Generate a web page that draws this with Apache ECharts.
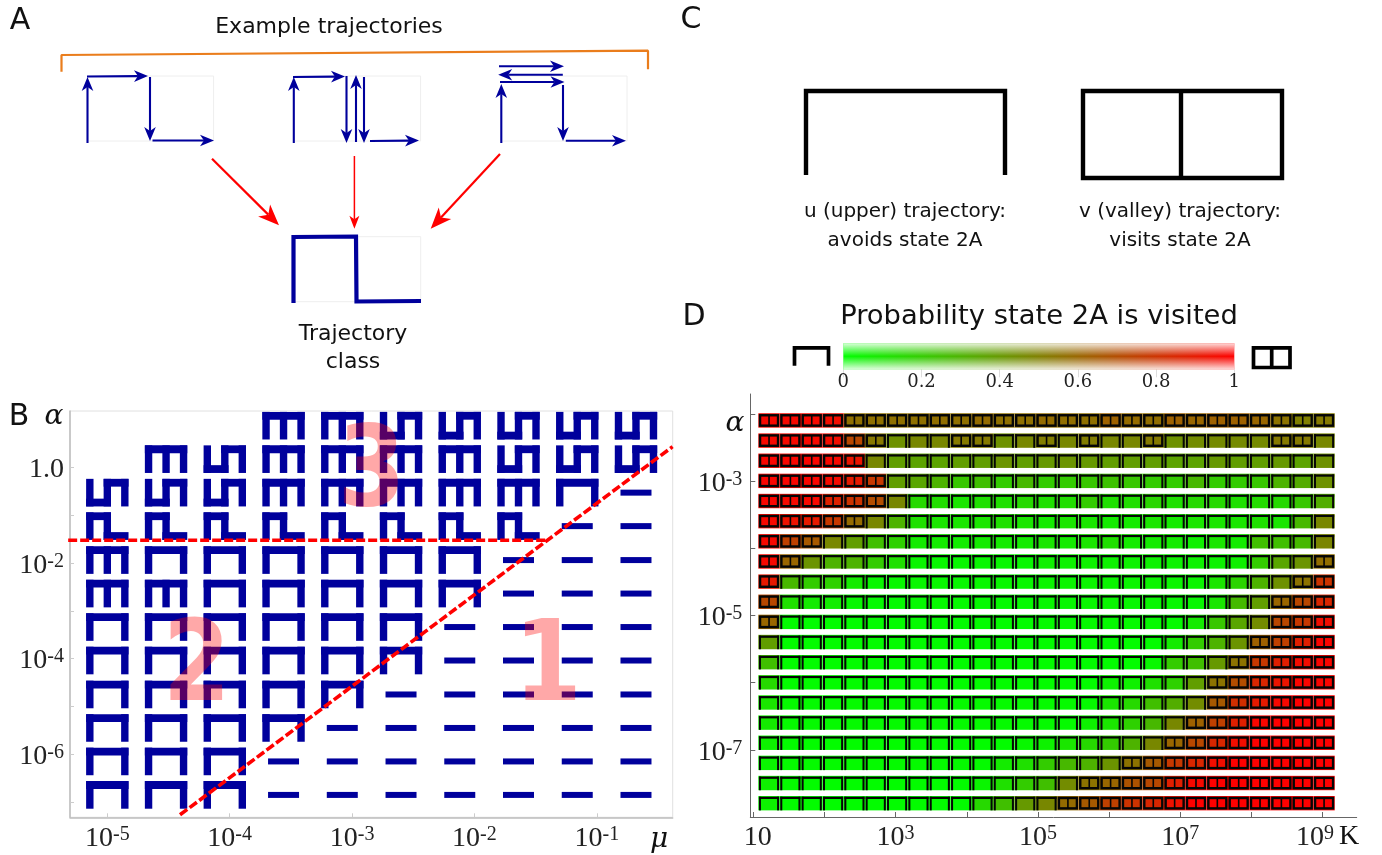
<!DOCTYPE html>
<html><head><meta charset="utf-8"><style>html,body{margin:0;padding:0;background:#fff}#c{width:1382px;height:855px}</style>
<script src="https://cdn.jsdelivr.net/npm/echarts@6/dist/echarts.min.js"></script></head>
<body><div id="c"></div>
<script>
// ---------- Panel B data ----------
const muLog = [-5,-4.52,-4.04,-3.56,-3.08,-2.6,-2.12,-1.64,-1.16,-0.68];
const alphaLogB = [0.87,0.17,-0.53,-1.23,-1.94,-2.64,-3.34,-4.04,-4.75,-5.45,-6.15,-6.85];
// u upper, v valley, s detour via valley, p partial, d dash, . none
const classRows = [
 '...vvsssss','.vsvvvvsss','sssvvvvvud','ppppppppdd','vuuuuuuddd','vvuuuuuddd',
 'uuuuuudddd','uuuuuudddd','uuuuuddddd','uuuudddddd','uuuddddddd','uuuddddddd'];
const boundaryH = [[-5.32,-1.526],[-1.416,-1.526]];
const boundaryD = [[-4.406,-7.266],[-0.381,0.431]];
const regionNames = ['1','2','3'];
const regionMu = [-1.4,-4.27,-2.84];
const regionAlpha = [-4.26,-4.26,-0.18];
const muTicks = [-5,-4,-3,-2,-1];
const alphaTicksB = [0,-1,-2,-3,-4,-5,-6,-7];

// ---------- Panel D data ----------
const logK = [1.2,1.5,1.8,2.1,2.4,2.7,3,3.3,3.6,3.9,4.2,4.5,4.8,5.1,5.4,5.7,6,6.3,6.6,6.9,7.2,7.5,7.8,8.1,8.4,8.7,9];
const alphaLogD = [-2.1,-2.4,-2.7,-3,-3.3,-3.6,-3.9,-4.2,-4.5,-4.8,-5.1,-5.4,-5.7,-6,-6.3,-6.6,-6.9,-7.2,-7.5,-7.8];
const visitProb = [
 [.97,.97,.97,.95,.56,.56,.56,.56,.57,.56,.58,.56,.56,.58,.57,.56,.62,.58,.57,.62,.6,.62,.62,.6,.55,.5,.52],
 [.97,.97,.97,.95,.72,.53,.43,.47,.47,.52,.52,.43,.47,.51,.47,.51,.47,.47,.52,.43,.45,.46,.46,.46,.52,.52,.47],
 [.98,.98,.98,.97,.92,.47,.38,.36,.36,.38,.38,.42,.38,.4,.42,.4,.38,.38,.38,.36,.36,.4,.38,.38,.4,.36,.43],
 [.98,.98,.98,.96,.9,.78,.38,.35,.3,.22,.25,.2,.28,.2,.2,.22,.24,.22,.2,.2,.28,.2,.2,.22,.3,.33,.43],
 [.98,.97,.97,.87,.8,.7,.47,.15,.13,.1,.12,.12,.15,.12,.13,.2,.12,.13,.16,.12,.15,.15,.12,.14,.15,.22,.32],
 [.97,.93,.9,.78,.58,.47,.3,.12,.1,.1,.1,.12,.1,.08,.1,.1,.08,.08,.1,.08,.1,.1,.1,.12,.1,.28,.47],
 [.97,.75,.65,.47,.38,.25,.18,.08,.08,.07,.08,.08,.08,.1,.08,.1,.12,.08,.08,.08,.06,.1,.08,.25,.25,.28,.48],
 [.97,.6,.42,.3,.3,.2,.12,.04,.03,.03,.03,.03,.03,.06,.05,.05,.05,.05,.05,.05,.05,.05,.06,.2,.35,.42,.57],
 [.9,.28,.2,.18,.08,.03,.03,.03,.03,.03,.03,.03,.03,.04,.04,.04,.04,.04,.04,.04,.04,.1,.17,.3,.43,.55,.8],
 [.72,.12,.08,.07,.03,.02,.02,.02,.02,.02,.02,.02,.02,.03,.03,.03,.03,.03,.03,.03,.03,.1,.27,.38,.6,.72,.85],
 [.6,.01,.01,.01,.01,.01,.01,.01,.01,.01,.01,.01,.01,.02,.02,.02,.02,.02,.02,.02,.08,.22,.35,.45,.72,.78,.95],
 [.38,.01,.01,.01,.01,.01,.01,.01,.01,.01,.01,.01,.01,.01,.01,.01,.01,.01,.01,.08,.2,.3,.42,.62,.75,.88,.98],
 [.25,.01,.01,.01,.01,.01,.01,.01,.01,.01,.01,.01,.01,.01,.01,.01,.01,.01,.03,.2,.25,.4,.55,.78,.88,.95,.98],
 [.15,.01,.01,.01,.01,.01,.01,.01,.01,.01,.01,.01,.01,.01,.01,.01,.05,.06,.12,.18,.38,.55,.7,.85,.92,.98,.98],
 [.1,.02,.02,.02,.02,.02,.02,.02,.02,.02,.02,.02,.02,.02,.02,.02,.1,.15,.25,.32,.45,.65,.82,.9,.97,1,1],
 [.08,.02,.02,.02,.02,.02,.02,.02,.02,.02,.02,.02,.02,.02,.02,.05,.1,.18,.28,.47,.62,.75,.88,.98,1,1,1],
 [.05,.01,.01,.01,.01,.01,.01,.01,.01,.01,.01,.01,.03,.05,.1,.15,.2,.3,.47,.6,.72,.85,.95,1,1,1,1],
 [.04,.02,.02,.02,.02,.02,.02,.02,.02,.02,.02,.08,.12,.2,.28,.3,.42,.55,.65,.78,.85,.95,1,1,1,1,1],
 [.06,.02,.01,.01,.01,.01,.01,.01,.01,.01,.04,.12,.2,.25,.45,.55,.6,.68,.72,.88,.97,1,1,1,1,1,1],
 [.05,.01,.01,.01,.01,.01,.01,.01,.01,.01,.15,.25,.4,.47,.58,.65,.75,.8,.85,.93,1,1,1,1,1,1,1]
];
const kTicks = [1,2,3,4,5,6,7,8,9];
const kLabelTicks = [1,3,5,7,9];
const alphaTicksD = [-2,-3,-4,-5,-6,-7];
const alphaLabelTicksD = [-3,-5,-7];
const colorbarRange = [[0,1]];

// ---------- Schematic data (panels A and C, in schematic units) ----------
const bracket = [[61.5,71.7],[61.5,55],[648,50.7],[648,69.3]];
const stateBoxes = [
 [87,76,149.5,76],[149.5,76,213.6,76],[87,141,213.6,141],[213.6,76,213.6,141],
 [293.8,76,420.6,76],[293.8,141,420.6,141],[420.6,76,420.6,141],
 [501.3,76,627,76],[501.3,141,627,141],[627,76,627,141],
 [293,236.7,420.7,236.7],[293,301.7,420.7,301.7],[420.7,236.7,420.7,301.7]];
const exampleArrows = [
 [87.5,143,87.5,77],[87,76.5,148,76],[150,77,150,141],[152.5,140.5,214,140.5],
 [293.8,143,293.8,77],[293,77,345,76.5],[346.5,76,346.5,143],[356,142,356,75],[364,77,364,143],[370,141,419,140.5],
 [501.3,143,501.3,84],[500,82,564.5,82],[562.8,74.7,498.2,74.7],[499,66.3,564,66.3],[563,85,563,141],[565.8,140.7,626,140.7]];
const classPath = [[293.5,303],[293.5,237],[356,236.5],[356.5,301.5],[421,301]];
const redArrowsThick = [[212,158.7,279,225.3],[500,154,430.7,228.7]];
const redArrowsThin = [[354.4,156,354.4,228.7]];
const upperPath = [[806,175],[806,91],[1005,91],[1005,175]];
const valleyOuter = [[1083,91],[1282,91],[1282,178],[1083,178],[1083,91]];
const valleyMid = [[1181,91],[1181,178]];
const keyUpper = [[794.5,365.7],[794.5,347.8],[828.5,347.8],[828.5,365.7]];
const keyValley = [[1253.5,347.8],[1290,347.8],[1290,367.5],[1253.5,367.5],[1253.5,347.8]];
const keyValleyMid = [[1271.7,347.8],[1271.7,367.5]];

const SANS='"DejaVu Sans"', SERIF='"DejaVu Serif"', LABEL='"Liberation Serif"';
const blue='#00009c', red='#ff0000';

function arrowItem(L,hw,lw,color){
  return function(params,api){
    const a=api.coord([api.value(0),api.value(1)]), b=api.coord([api.value(2),api.value(3)]);
    const dx=b[0]-a[0], dy=b[1]-a[1], n=Math.hypot(dx,dy), ux=dx/n, uy=dy/n, nx=-uy, ny=ux;
    const base=[b[0]-ux*L,b[1]-uy*L], notch=[b[0]-ux*L*.72,b[1]-uy*L*.72];
    return {type:'group',children:[
      {type:'line',shape:{x1:a[0],y1:a[1],x2:notch[0],y2:notch[1]},style:{stroke:color,lineWidth:lw}},
      {type:'polygon',shape:{points:[b,[base[0]+nx*hw,base[1]+ny*hw],notch,[base[0]-nx*hw,base[1]-ny*hw]]},style:{fill:color}}
    ]};
  };
}
function boxItem(params,api){
  const a=api.coord([api.value(0),api.value(1)]), b=api.coord([api.value(2),api.value(3)]);
  return {type:'line',shape:{x1:a[0],y1:a[1],x2:b[0],y2:b[1]},style:{stroke:'#eeeeee',lineWidth:1}};
}
const GW=42.4,GH=27.6,TH=7.4,BH=7.8;
function bars(list,cx,cy){
  return list.map(function(r){return {type:'rect',shape:{x:cx-GW/2+r[0],y:cy-GH/2+r[1],width:r[2],height:r[3]},style:{fill:blue}};});
}
function glyphItem(params,api){
  const c=api.coord([api.value(0),api.value(1)]), k=classRows[api.value(2)][api.value(3)];
  const L=[0,0,TH,GH],R=[GW-TH,0,TH,GH],T=[0,0,GW,BH],M=[(GW-TH)/2,0,TH,GH];
  let kids=[];
  if(k==='u') kids=bars([L,R,T],c[0],c[1]);
  if(k==='v') kids=bars([L,R,T,M],c[0],c[1]);
  if(k==='s') kids=bars([L,R,M,[0,GH-BH,(GW+TH)/2,BH],[(GW-TH)/2,0,(GW+TH)/2,BH]],c[0],c[1]);
  if(k==='p') kids=bars([L,M,[0,0,(GW+TH)/2,BH],[(GW-TH)/2,GH-BH,(GW+TH)/2,BH]],c[0],c[1]);
  if(k==='d') kids=[{type:'rect',shape:{x:c[0]-15.5,y:c[1]-3,width:31,height:6},style:{fill:blue}}];
  return {type:'group',children:kids};
}
const glyphData=[];
classRows.forEach(function(row,r){muLog.forEach(function(m,c){ if(row[c]!=='.') glyphData.push([m,alphaLogB[r],r,c]); });});

const cellData=[];
alphaLogD.forEach(function(a,r){logK.forEach(function(k,c){cellData.push([k,a,visitProb[r][c]]);});});
function cellItem(params,api){
  const c=api.coord([api.value(0),api.value(1)]), p=api.value(2), w=api.size([.3,.3])[0], h=14.4;
  const col='rgb('+Math.round(255*p)+','+Math.round(255*(1-p))+',0)';
  const x=c[0]-w/2+1.5,y=c[1]-h/2-.4, k='#050505';
  const kids=[{type:'rect',shape:{x:x,y:y,width:w,height:h},style:{fill:col}}];
  if(p>=.5){
    kids.push({type:'rect',shape:{x:x+.5,y:y+.8,width:w-1,height:h-1.6},style:{fill:k}});
    kids.push({type:'rect',shape:{x:x+2.9,y:y+3.2,width:7,height:8},style:{fill:col}});
    kids.push({type:'rect',shape:{x:x+11.5,y:y+3.2,width:7,height:8},style:{fill:col}});
  } else {
    kids.push({type:'rect',shape:{x:x+.6,y:y+.8,width:w-1.2,height:2.2},style:{fill:k}});
    kids.push({type:'rect',shape:{x:x+.6,y:y+.8,width:2,height:h-.8},style:{fill:k}});
    kids.push({type:'rect',shape:{x:x+w-2.6,y:y+.8,width:2,height:h-.8},style:{fill:k}});
  }
  return {type:'group',children:kids};
}
function colorbarItem(params,api){
  const a=api.coord([api.value(0),1]), b=api.coord([api.value(1),0]);
  const s={x:a[0],y:a[1],width:b[0]-a[0],height:b[1]-a[1]};
  return {type:'group',children:[
   {type:'rect',shape:s,style:{fill:new echarts.graphic.LinearGradient(0,0,1,0,[{offset:0,color:'#00ff00'},{offset:1,color:'#ff0000'}])}},
   {type:'rect',shape:s,style:{fill:new echarts.graphic.LinearGradient(0,0,0,1,[{offset:0,color:'rgba(255,255,255,.85)'},{offset:.5,color:'rgba(255,255,255,0)'},{offset:1,color:'rgba(255,255,255,.85)'}])}}
  ]};
}
function regionItem(params,api){
  const c=api.coord([api.value(0),api.value(1)]);
  return {type:'text',x:c[0],y:c[1],scaleX:.87,style:{text:regionNames[api.value(2)],font:'bold 112px '+SANS,fill:'rgba(255,0,0,.34)',align:'center',verticalAlign:'middle'}};
}
function txt(text,x,y,font,extra){
  return Object.assign({type:'text',x:x,y:y,silent:true,style:{text:text,font:font,fill:'#111',align:'center',verticalAlign:'middle'}},extra||{});
}
const BF=28,SF=20;
const rich={b:{fontFamily:LABEL,fontSize:BF,color:'#222'},s:{fontFamily:LABEL,fontSize:SF,color:'#222',verticalAlign:'top',padding:[0,0,4,0]},
  l:{fontFamily:LABEL,fontSize:BF,color:'#222',padding:[0,0,0,9]},rs:{fontFamily:LABEL,fontSize:SF,color:'#222',verticalAlign:'top',padding:[0,15,4,0]}};
function pow(v){ return '{b|10}{s|'+v+'}'; }
function hiddenAxis(i,min,max,inv){ return {type:'value',gridIndex:i,min:min,max:max,inverse:!!inv,show:false}; }
const gray={lineStyle:{color:'#bdbdbd',width:1.5}};
const dark={lineStyle:{color:'#666',width:1}};
const option={
 animation:false,backgroundColor:'#fff',
 grid:[
  {left:0,top:0,width:1382,height:855},
  {left:70,top:411,width:602.7,height:406.3,show:true,borderColor:'#e0e0e0',borderWidth:1},
  {left:843.3,top:343.3,width:391,height:26},
  {left:750.3,top:394,width:606.4,height:423}
 ],
 xAxis:[
  hiddenAxis(0,0,1382),
  {type:'value',gridIndex:1,min:-5.305,max:-0.38,position:'bottom',splitLine:{show:false},
   axisLine:Object.assign({onZero:false},gray),
   axisTick:{customValues:muTicks,inside:true,length:4,lineStyle:{color:'#ccc'}},
   axisLabel:{customValues:muTicks,margin:7,rich:rich,formatter:function(v){return pow(v);}}},
  {type:'value',gridIndex:2,min:0,max:1,interval:.2,splitLine:{show:false},axisLine:{show:false},
   axisTick:{length:8,lineStyle:{color:'#dddddd'}},axisLabel:{margin:4,fontFamily:SERIF,fontSize:18,color:'#222',formatter:function(v){return String(Math.round(v*10)/10);}}},
  {type:'value',gridIndex:3,min:.958,max:9.48,splitLine:{show:false},
   axisLine:Object.assign({onZero:false},dark),
   axisTick:{customValues:kTicks,inside:true,length:5,lineStyle:{color:'#666'}},
   axisLabel:{customValues:kLabelTicks,margin:7,rich:rich,formatter:function(v){
     if(v===1) return '{l|10}'; if(v===9) return '{b|10}{rs|9}'; return pow(v);}}}
 ],
 yAxis:[
  hiddenAxis(0,0,855,true),
  {type:'value',gridIndex:1,min:-7.318,max:1.177,position:'left',splitLine:{show:false},
   axisLine:Object.assign({onZero:false},gray),
   axisTick:{customValues:alphaTicksB,inside:true,length:4,lineStyle:{color:'#ccc'}},
   axisLabel:{customValues:[0,-2,-4,-6],margin:6,padding:[5,0,0,0],rich:rich,formatter:function(v){return v===0?'{b|1.0}':pow(v);}}},
  hiddenAxis(2,0,1),
  {type:'value',gridIndex:3,min:-8,max:-1.7,splitLine:{show:false},
   axisLine:Object.assign({onZero:false},dark),
   axisTick:{customValues:alphaTicksD,inside:true,length:5,lineStyle:{color:'#666'}},
   axisLabel:{customValues:alphaLabelTicksD,margin:8,padding:[5,0,0,0],rich:rich,formatter:function(v){return pow(v);}}}
 ],
 series:[
  {type:'custom',xAxisIndex:0,yAxisIndex:0,data:stateBoxes,renderItem:boxItem,silent:true,clip:false,z:1},
  {type:'line',xAxisIndex:0,yAxisIndex:0,data:bracket,showSymbol:false,silent:true,lineStyle:{color:'#ea7d1c',width:2.2},z:2},
  {type:'custom',xAxisIndex:0,yAxisIndex:0,data:exampleArrows,renderItem:arrowItem(14,5.8,2.1,blue),silent:true,z:3},
  {type:'line',xAxisIndex:0,yAxisIndex:0,data:classPath,showSymbol:false,silent:true,lineStyle:{color:blue,width:4.2,join:'miter'},z:3},
  {type:'custom',xAxisIndex:0,yAxisIndex:0,data:redArrowsThick,renderItem:arrowItem(21,8.5,2.2,red),silent:true,z:3},
  {type:'custom',xAxisIndex:0,yAxisIndex:0,data:redArrowsThin,renderItem:arrowItem(13,5,1.5,red),silent:true,z:3},
  {type:'line',xAxisIndex:0,yAxisIndex:0,data:upperPath,showSymbol:false,silent:true,lineStyle:{color:'#000',width:4.4,join:'miter'},z:3},
  {type:'line',xAxisIndex:0,yAxisIndex:0,data:valleyOuter,showSymbol:false,silent:true,lineStyle:{color:'#000',width:4.4,join:'miter',cap:'square'},z:3},
  {type:'line',xAxisIndex:0,yAxisIndex:0,data:valleyMid,showSymbol:false,silent:true,lineStyle:{color:'#000',width:4.4},z:3},
  {type:'line',xAxisIndex:0,yAxisIndex:0,data:keyUpper,showSymbol:false,silent:true,lineStyle:{color:'#000',width:3.7,join:'miter'},z:3},
  {type:'line',xAxisIndex:0,yAxisIndex:0,data:keyValley,showSymbol:false,silent:true,lineStyle:{color:'#000',width:3.7,join:'miter',cap:'square'},z:3},
  {type:'line',xAxisIndex:0,yAxisIndex:0,data:keyValleyMid,showSymbol:false,silent:true,lineStyle:{color:'#000',width:3.7},z:3},

  {type:'custom',xAxisIndex:1,yAxisIndex:1,data:glyphData,renderItem:glyphItem,silent:true,clip:false,z:4},
  {type:'custom',xAxisIndex:1,yAxisIndex:1,data:regionMu.map(function(m,i){return [m,regionAlpha[i],i];}),renderItem:regionItem,silent:true,clip:false,z:5},
  {type:'line',xAxisIndex:1,yAxisIndex:1,data:boundaryH,showSymbol:false,silent:true,clip:false,lineStyle:{color:red,width:3.6,type:[9,3]},z:6},
  {type:'line',xAxisIndex:1,yAxisIndex:1,data:boundaryD,showSymbol:false,silent:true,clip:false,lineStyle:{color:red,width:3.6,type:[9,3]},z:6},

  {type:'custom',xAxisIndex:2,yAxisIndex:2,data:colorbarRange,renderItem:colorbarItem,silent:true,z:4},
  {type:'custom',xAxisIndex:3,yAxisIndex:3,data:cellData,renderItem:cellItem,silent:true,clip:false,z:4}
 ],
 graphic:[
  txt('A',20,21,'30px '+SANS), txt('B',19,417,'30px '+SANS), txt('C',691,20,'30px '+SANS), txt('D',694,317,'30px '+SANS),
  txt('Example trajectories',329,27,'22px '+SANS),
  txt('Trajectory',353,334,'22px '+SANS), txt('class',353,362,'22px '+SANS),
  txt('u (upper) trajectory:',905,212,'20px '+SANS), txt('avoids state 2A',905,241,'20px '+SANS),
  txt('v (valley) trajectory:',1180,212,'20px '+SANS), txt('visits state 2A',1180,241,'20px '+SANS),
  txt('Probability state 2A is visited',1039,317,'27.4px '+SANS),
  txt('α',54,417,'italic 28px '+SERIF), txt('μ',659,840,'italic 28px '+SERIF),
  txt('α',735,424,'italic 28px '+SERIF), txt('K',1349,837,'28px '+LABEL)
 ]
};
echarts.init(document.getElementById('c'),null,{renderer:'canvas'}).setOption(option);
</script></body></html>
